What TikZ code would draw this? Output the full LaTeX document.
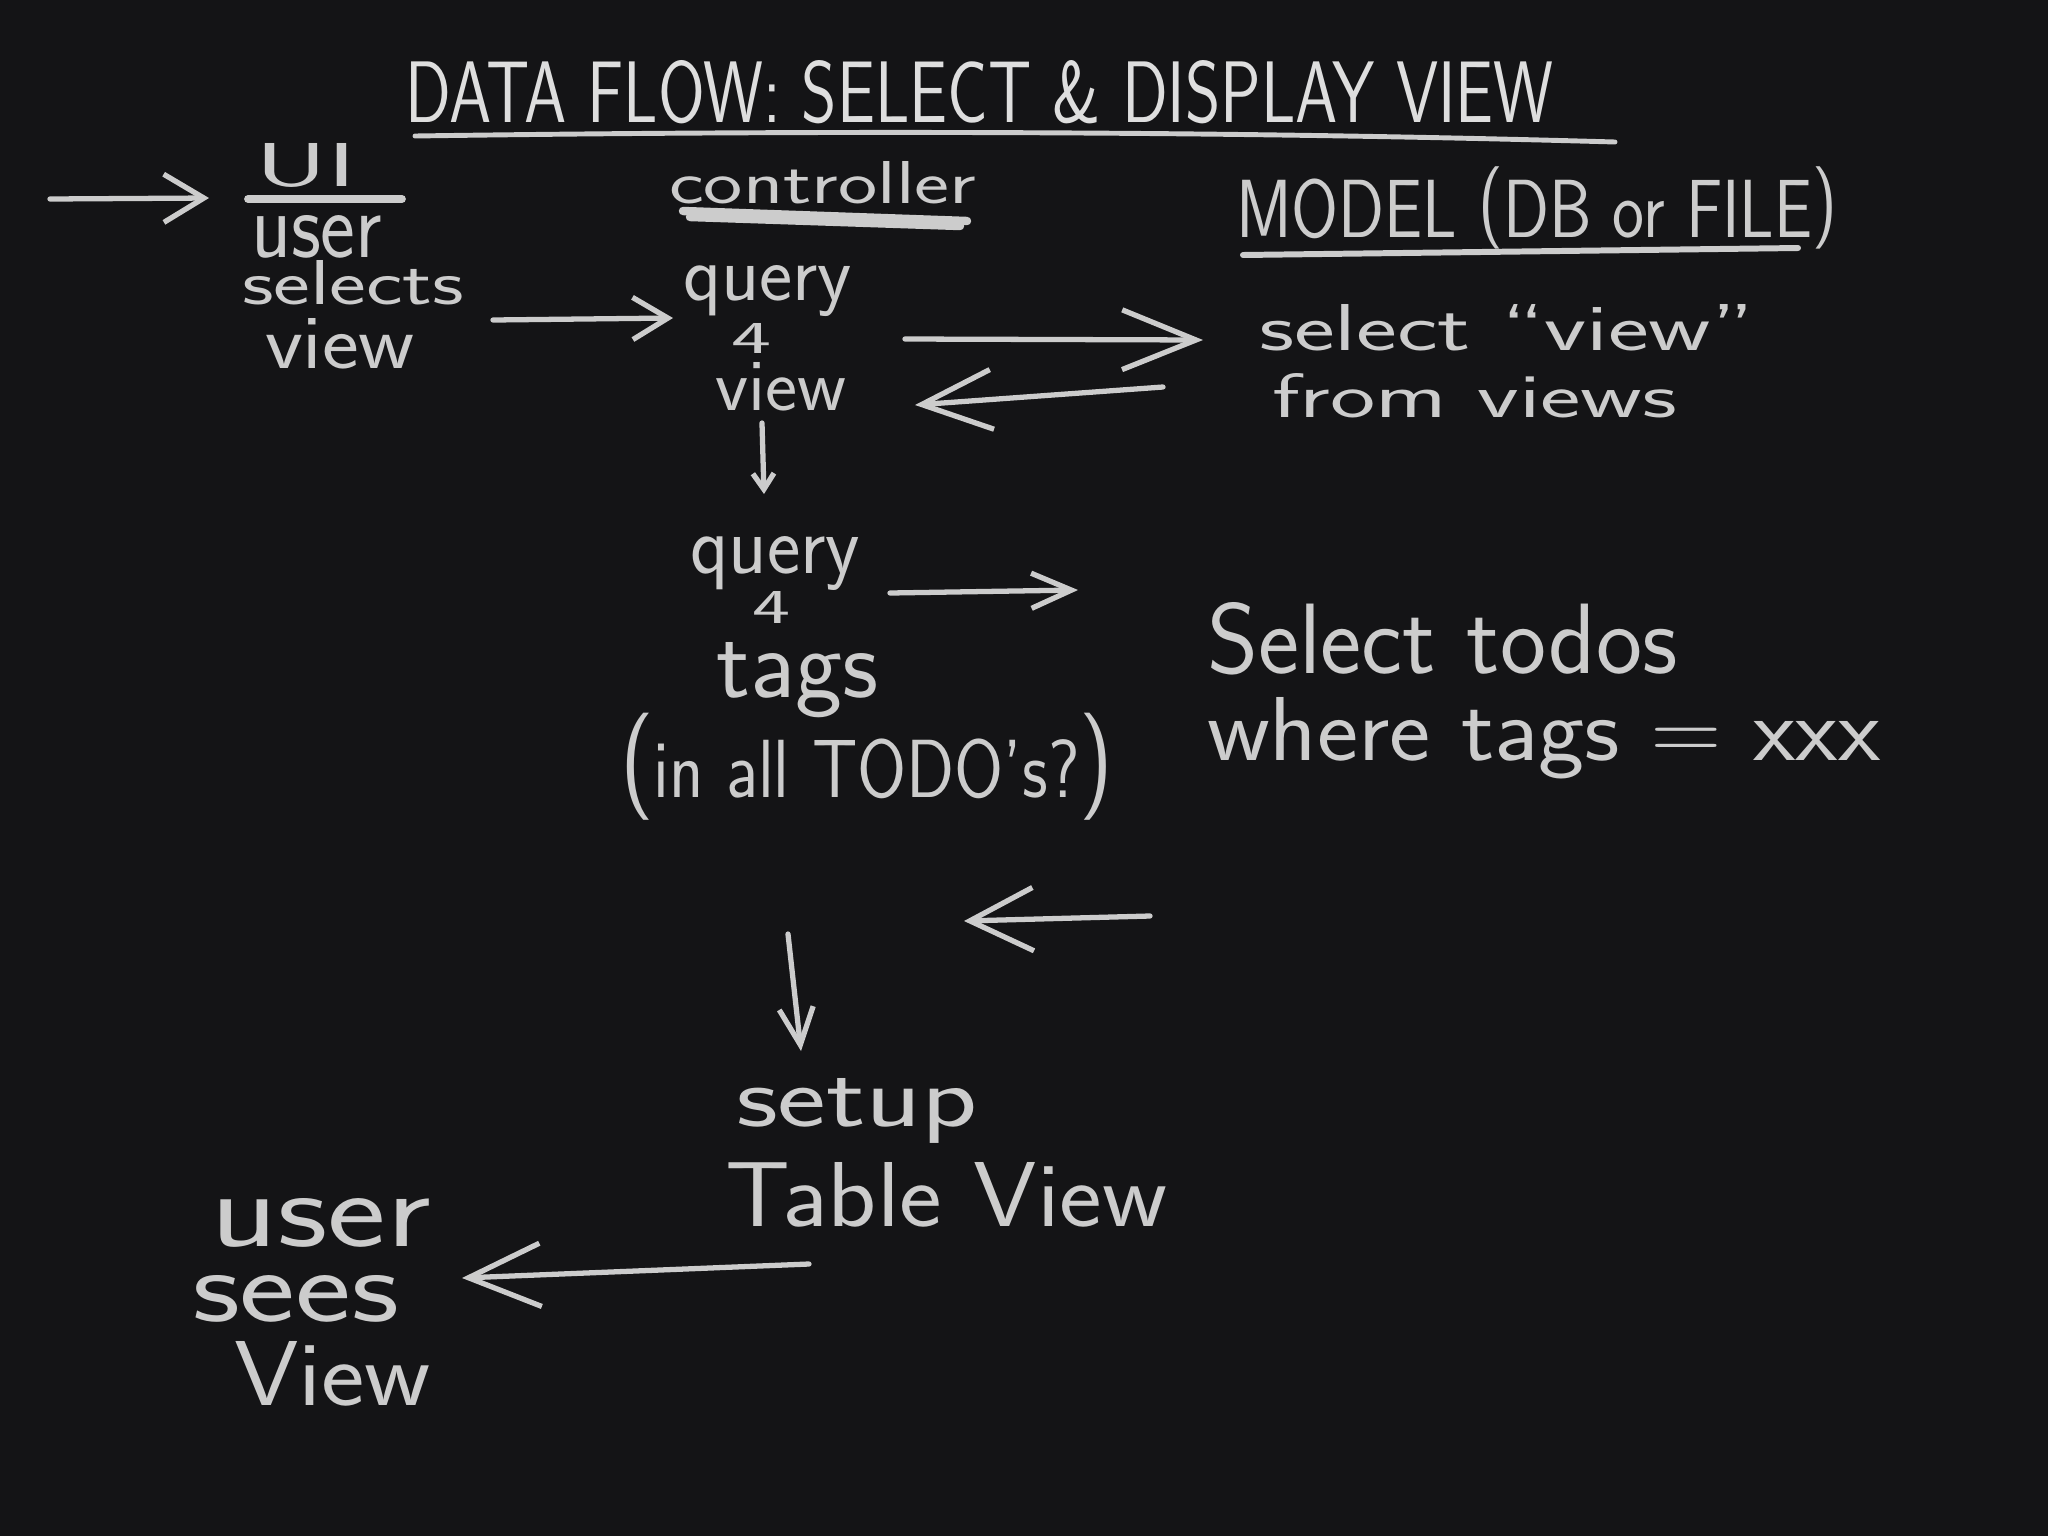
\documentclass[tikz,border=0pt]{standalone}
\usetikzlibrary{arrows.meta}
\definecolor{board}{RGB}{20,20,22}
\definecolor{chalk}{RGB}{204,204,204}
\definecolor{chalkb}{RGB}{222,222,222}
\newlength\pxu
\setlength\pxu{0.28453pt}
\newcommand\chalktext[3]{\resizebox{#1\pxu}{#2\pxu}{#3}}
\begin{document}
\begin{tikzpicture}[x=0.01cm,y=-0.01cm,
  txt/.style={text=chalk, inner sep=0pt, outer sep=0pt, anchor=base west,
    font=\sffamily\fontsize{20}{24}\selectfont},
  chalkline/.style={draw=chalk, line width=1.5pt, line cap=round, line join=round},
  arr/.style n args={2}{chalkline, -{Straight Barb[length=#1pt, width=#2pt]}}
]
\fill[board] (0,0) rectangle (2048,1536);

% ---- title ----
\node[txt, text=chalkb] (title) at (405,122) {\chalktext{1148}{62}{DATA FLOW: SELECT \& DISPLAY VIEW}};
\coordinate (tu1) at (415,136);
\coordinate (tu2) at (1615,142);
\draw[chalkline, line width=1.4pt] (tu1) .. controls (900,129) and (1300,133) .. (tu2);

% ---- UI column ----
\node[txt] (ui) at (255,186) {\chalktext{101}{43}{UI}};
\coordinate (uiu1) at (248,199);
\coordinate (uiu2) at (402,199);
\draw[chalkline, line width=2.2pt] (uiu1) -- (uiu2);
\node[txt] (user1) at (251,257) {\chalktext{131}{42}{user}};
\node[txt] (selects) at (242,304) {\chalktext{222}{44}{selects}};
\node[txt] (view1) at (265,368) {\chalktext{150}{50}{view}};

% ---- controller column ----
\node[txt] (controller) at (669,203) {\chalktext{307}{42}{controller}};
\coordinate (cu1) at (683,211);
\coordinate (cu2) at (967,221);
\coordinate (cu3) at (690,217);
\coordinate (cu4) at (960,226);
\draw[chalkline, line width=2.4pt] (cu1) -- (cu2);
\draw[chalkline, line width=2.4pt] (cu3) -- (cu4);
\node[txt] (query1) at (683,300) {\chalktext{169}{35}{query}};
\node[txt] (four1) at (731,353) {\chalktext{40}{30}{4}};
\node[txt] (view2) at (715,410) {\chalktext{131}{48}{view}};
\node[txt] (query2) at (690,573) {\chalktext{170}{37}{query}};
\node[txt] (four2) at (752,623) {\chalktext{38}{32}{4}};
\node[txt] (tags) at (716,697) {\chalktext{162}{55}{tags}};
\node[txt] (inall) at (620,797) {\chalktext{493}{84}{\raisebox{0.045em}{\scalebox{1.3}{(}}in all TODO’s?\raisebox{0.045em}{\scalebox{1.3}{)}}}};
\node[txt] (setup) at (736,1126) {\chalktext{242}{48}{setup}};
\node[txt] (tableview) at (725,1226) {\chalktext{442}{64}{Table View}};

% ---- model column ----
\node[txt] (model) at (1236,237) {\chalktext{601}{70}{MODEL \raisebox{0.1em}{(}DB or FILE\raisebox{0.1em}{)}}};
\coordinate (mu1) at (1243,255);
\coordinate (mu2) at (1798,248);
\draw[chalkline, line width=1.7pt] (mu1) -- (mu2);
\node[txt] (selectview) at (1259,350) {\chalktext{495}{46}{select “view”}};
\node[txt] (fromviews) at (1272,417) {\chalktext{405}{44}{from views}};
\node[txt] (selecttodos) at (1207,673) {\chalktext{470}{71}{Select todos}};
\node[txt] (where) at (1207,760) {\chalktext{673}{63}{where tags = xxx}};

% ---- user sees view ----
\node[txt] (user2) at (210,1246) {\chalktext{221}{48}{user}};
\node[txt] (sees) at (192,1321) {\chalktext{207}{46}{sees}};
\node[txt] (view3) at (234,1405) {\chalktext{197}{64}{View}};

% ---- arrow end points ----
\coordinate (a1s) at (50,199);    \coordinate (a1e) at (209,198);
\coordinate (a2s) at (493,320);   \coordinate (a2e) at (673,318);
\coordinate (a3s) at (905,339);   \coordinate (a3e) at (1203,340);
\coordinate (a4s) at (1163,387);  \coordinate (a4e) at (915,405);
\coordinate (a5s) at (762,423);   \coordinate (a5e) at (764,494);
\coordinate (a6s) at (890,593);   \coordinate (a6e) at (1078,590);
\coordinate (a7s) at (1150,916);  \coordinate (a7e) at (964,921);
\coordinate (a8s) at (788,934);   \coordinate (a8e) at (801,1051);
\coordinate (a9s) at (809,1264);  \coordinate (a9e) at (462,1278);

\draw[arr={11.4}{13.7}] (a1s) -- (a1e);
\draw[arr={10}{12}] (a2s) -- (a2e);
\draw[arr={21}{17}] (a3s) -- (a3e);
\draw[arr={20}{17}] (a4s) -- (a4e);
\draw[arr={4.5}{6}] (a5s) -- (a5e);
\draw[arr={11.4}{10}] (a6s) -- (a6e);
\draw[arr={18}{18}] (a7s) -- (a7e);
\draw[arr={10.5}{9.7}] (a8s) -- (a8e);
\draw[arr={20.5}{18}] (a9s) -- (a9e);
\end{tikzpicture}
\end{document}
